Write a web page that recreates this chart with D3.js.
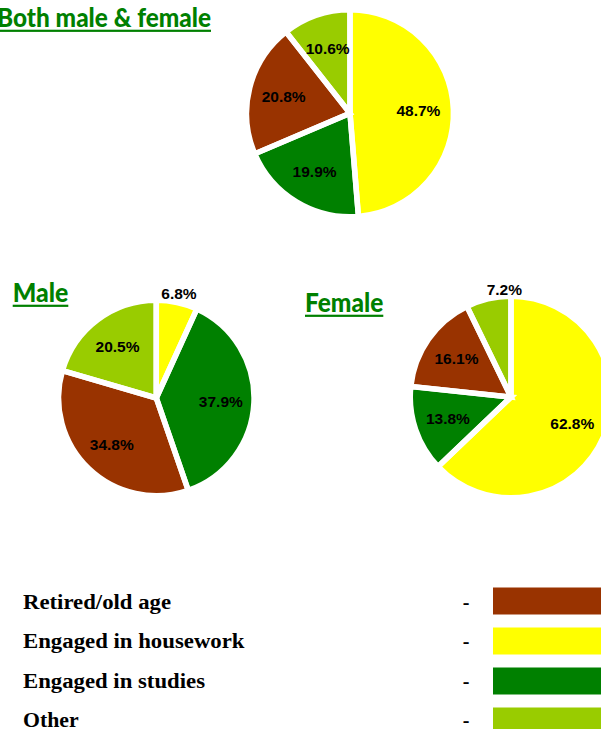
<!DOCTYPE html>
<html><head><meta charset="utf-8">
<script src="https://cdn.jsdelivr.net/npm/d3@7"></script>
<style>html,body{margin:0;padding:0;background:#fff;overflow:hidden}</style>
</head><body>
<svg id="chart" width="601" height="729"></svg>
<script>
// Reasons for being outside the labour force
const categories = ["Retired/old age", "Engaged in housework", "Engaged in studies", "Other"];
const categoryColors = ["#993300", "#FFFF00", "#008000", "#99CC00"];
// slices run clockwise from 12 o'clock in this category order
const sliceOrder = [1, 2, 0, 3];

const bothValues   = [20.8, 48.7, 19.9, 10.6];
const maleValues   = [34.8, 6.8, 37.9, 20.5];
const femaleValues = [16.1, 62.8, 13.8, 7.2];
const panelTitles  = ["Both male & female", "Male", "Female"];

const titleColor = "#008000";
const gap = 5.5;          // white separation between slices
const smallSlice = 8;     // values below this are labelled outside the pie

const panels = [
  { values: bothValues,   title: panelTitles[0], cx: 350,   cy: 113.3, r: 100.7, tx: -3,   ty: 26.7,  tw: 214,  outDx: 0 },
  { values: maleValues,   title: panelTitles[1], cx: 156.3, cy: 398,   r: 95,    tx: 12.7, ty: 301.7, tw: 55.6, outDx: 0 },
  { values: femaleValues, title: panelTitles[2], cx: 511,   cy: 397,   r: 98,    tx: 305,  ty: 311.7, tw: 78.3, outDx: 18 }
];

const svg = d3.select("#chart");

panels.forEach(p => {
  // title with underline
  svg.append("text")
    .attr("x", p.tx).attr("y", p.ty)
    .attr("font-family", "Lato, 'Open Sans', sans-serif")
    .attr("font-weight", 900)
    .attr("font-size", 26)
    .attr("fill", titleColor)
    .attr("textLength", p.tw)
    .attr("lengthAdjust", "spacingAndGlyphs")
    .text(p.title);
  svg.append("rect")
    .attr("x", p.tx).attr("y", p.ty + 3)
    .attr("width", p.tw).attr("height", 2.2)
    .attr("fill", titleColor);

  const pie = d3.pie().sort(null).value(i => p.values[i]);
  const arcs = pie(sliceOrder);
  const outerR = p.r + gap / 2;
  const arc = d3.arc().innerRadius(0).outerRadius(outerR);

  const g = svg.append("g").attr("transform", `translate(${p.cx},${p.cy})`);
  g.append("g").selectAll("path").data(arcs).join("path")
    .attr("d", arc)
    .attr("fill", d => categoryColors[d.data]);
  g.append("g").selectAll("path").data(arcs).join("path")
    .attr("d", arc)
    .attr("fill", "none")
    .attr("stroke", "#fff")
    .attr("stroke-width", gap)
    .attr("stroke-linejoin", "miter");

  const inner = d3.arc().innerRadius(p.r * 0.68).outerRadius(p.r * 0.68);
  const outer = d3.arc().innerRadius(p.r + 12).outerRadius(p.r + 12);
  g.append("g").selectAll("text").data(arcs).join("text")
    .attr("transform", d => {
      const v = p.values[d.data];
      if (v < smallSlice) {
        const c = outer.centroid(d);
        return `translate(${c[0] + p.outDx},${c[1]})`;
      }
      return `translate(${inner.centroid(d)})`;
    })
    .attr("text-anchor", "middle")
    .attr("dominant-baseline", "central")
    .attr("font-family", "'Liberation Sans', Arial, sans-serif")
    .attr("font-weight", 700)
    .attr("font-size", 15.5)
    .attr("fill", "#000")
    .text(d => p.values[d.data].toFixed(1) + "%");
});

// legend
const legendWidths = [148, 221.5, 182, 55.6];
const legend = svg.append("g").selectAll("g").data(categories).join("g");
legend.append("text")
  .attr("x", 23).attr("y", (d, i) => 609 + i * 39.3)
  .attr("font-family", "'Liberation Serif', 'Times New Roman', serif")
  .attr("font-weight", 700)
  .attr("font-size", 20)
  .attr("fill", "#000")
  .attr("textLength", (d, i) => legendWidths[i])
  .attr("lengthAdjust", "spacingAndGlyphs")
  .text(d => d);
legend.append("text")
  .attr("x", 466).attr("y", (d, i) => 609 + i * 39.3)
  .attr("text-anchor", "middle")
  .attr("font-family", "'Liberation Serif', 'Times New Roman', serif")
  .attr("font-weight", 700)
  .attr("font-size", 20)
  .text("-");
legend.append("rect")
  .attr("x", 493).attr("y", (d, i) => 587.5 + i * 40)
  .attr("width", 110).attr("height", 27)
  .attr("fill", (d, i) => categoryColors[i]);
</script>
</body></html>
